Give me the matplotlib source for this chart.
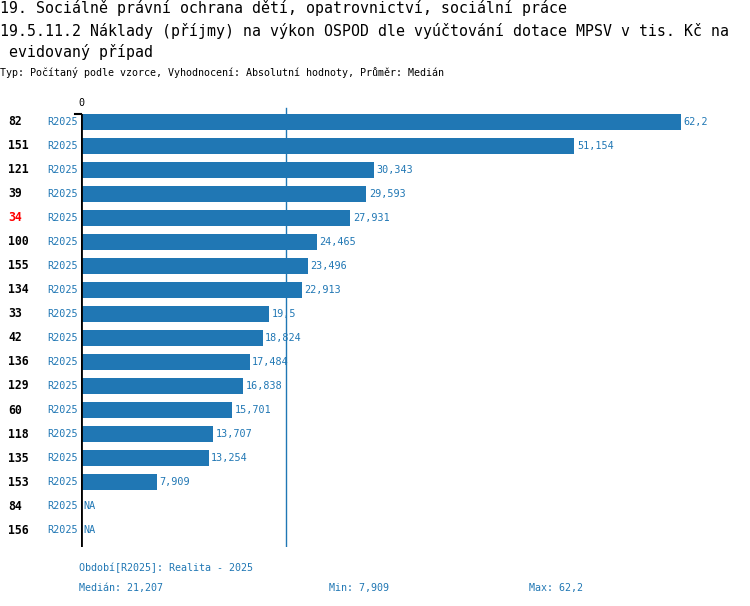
import matplotlib
matplotlib.use("Agg")
import matplotlib.pyplot as plt

# data
ids = ['82', '151', '121', '39', '34', '100', '155', '134', '33', '42',
       '136', '129', '60', '118', '135', '153', '84', '156']
hodnoty = [62.2, 51.154, 30.343, 29.593, 27.931, 24.465, 23.496, 22.913, 19.5,
           18.824, 17.484, 16.838, 15.701, 13.707, 13.254, 7.909, None, None]
obdobi = 'R2025'
zvyrazneny = '34'
median = 21.207
minimum = 7.909
maximum = 62.2

modra = '#2077b4'
W, H = 750, 606
plt.rcParams['font.family'] = ['DejaVu Sans Mono']

fig = plt.figure(figsize=(W / 100, H / 100), dpi=100)

def fx(px):
    return px / W

def fy(py):
    return 1 - py / H

# axes: x=0 at px 81, max at px 681; rows from y 114 to 547
ax = fig.add_axes([fx(81), fy(547), fx(681) - fx(81), (547 - 114) / H])
ax.set_xlim(0, maximum)
ax.set_ylim((547 - 122) / 24, -8 / 24)
ax.axis('off')

def fmt(v):
    s = f'{v:.3f}'.rstrip('0').rstrip('.')
    return s.replace('.', ',')

for i, v in enumerate(hodnoty):
    if v is None:
        ax.text(0.25, i, 'NA', color=modra, fontsize=7.3, va='center', ha='left')
        continue
    ax.barh(i, v, height=0.68, color=modra, zorder=2)
    ax.text(v + 0.25, i, fmt(v), color=modra, fontsize=7.3, va='center', ha='left')

# axis line and median line
ax.axvline(0, color='black', lw=2, zorder=3)
ax.axvline(median, color=modra, lw=1, zorder=1)
ax.plot([median, median], [-8 / 24, -14 / 24], color=modra, lw=1, clip_on=False)
ax.plot([-0.6, 0], [-8 / 24, -8 / 24], color='black', lw=1.5, clip_on=False)
ax.text(0, -19 / 24, '0', fontsize=7.3, ha='center', va='center', color='black')

# row labels
for i, kod in enumerate(ids):
    barva = 'red' if kod == zvyrazneny else 'black'
    ax.text(-73 / 9.646, i, kod, fontsize=8.3, fontweight='bold', color=barva,
            ha='left', va='center', clip_on=False)
    ax.text(-3 / 9.646, i, obdobi, fontsize=7.3, color=modra,
            ha='right', va='center', clip_on=False)

# titles
fig.text(fx(0), fy(8), '19. Sociálně právní ochrana dětí, opatrovnictví, sociální práce',
         fontsize=10.7, va='center', ha='left')
fig.text(fx(0), fy(31), '19.5.11.2 Náklady (příjmy) na výkon OSPOD dle vyúčtování dotace MPSV v tis. Kč na',
         fontsize=10.7, va='center', ha='left')
fig.text(fx(0), fy(52), ' evidovaný případ', fontsize=10.7, va='center', ha='left')
fig.text(fx(0), fy(73), 'Typ: Počítaný podle vzorce, Vyhodnocení: Absolutní hodnoty, Průměr: Medián',
         fontsize=7.2, va='center', ha='left')

# footer
fig.text(fx(79), fy(568), 'Období[R2025]: Realita - 2025', fontsize=7.2, color=modra, va='center')
fig.text(fx(79), fy(588), 'Medián: ' + fmt(median), fontsize=7.2, color=modra, va='center')
fig.text(fx(329), fy(588), 'Min: ' + fmt(minimum), fontsize=7.2, color=modra, va='center')
fig.text(fx(529), fy(588), 'Max: ' + fmt(maximum), fontsize=7.2, color=modra, va='center')

fig.savefig('out.png', dpi=100)
